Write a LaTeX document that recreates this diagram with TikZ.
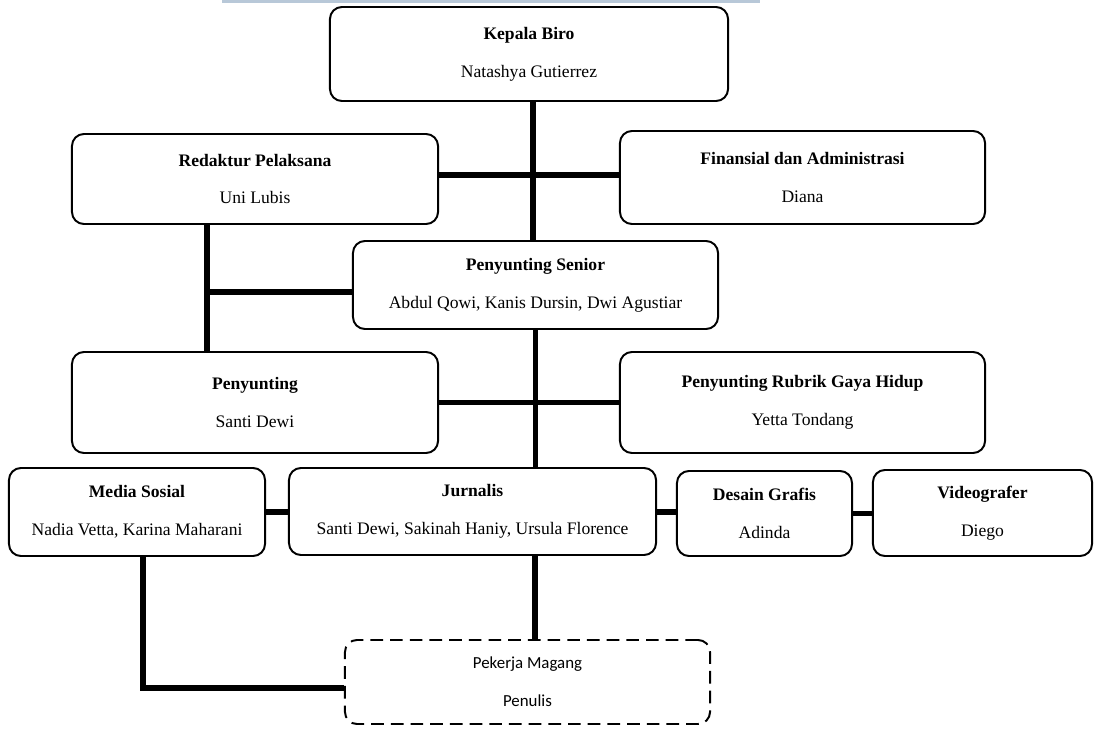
\documentclass[tikz,border=0pt]{standalone}
\usepackage{fontspec}
\setmainfont{Liberation Serif}
\newfontfamily\calibrifont{Carlito}
\usetikzlibrary{positioning}

\tikzset{
  unit/.style={draw=black,rounded corners=0.3cm,line width=1.4pt,align=center,
    font=\fontsize{12.5}{15}\selectfont,inner sep=0pt},
  internbox/.style={unit,dashed,dash pattern=on 9pt off 5pt,font=\calibrifont\fontsize{12}{14}\selectfont},
  link/.style={draw=black,line width=4.25pt},
}

\begin{document}
\begin{tikzpicture}[x=0.025cm,y=-0.025cm]
\useasboundingbox (0,0) rectangle (1094,729);
\fill[fill={rgb,255:red,184;green,200;blue,216}] (222,0) rectangle (760,3);

\node[unit,minimum width=9.95cm,minimum height=2.35cm] (kepala) at (529,54) {\textbf{Kepala Biro}\\[12pt]Natashya Gutierrez};
\node[unit,minimum width=9.15cm,minimum height=2.25cm] (redaktur) at (255,179) {\textbf{Redaktur Pelaksana}\\[12pt]Uni Lubis};
\node[unit,minimum width=9.125cm,minimum height=2.325cm] (finansial) at (802.5,177.5) {\textbf{Finansial dan Administrasi}\\[12pt]Diana};
\node[unit,minimum width=9.125cm,minimum height=2.2cm] (senior) at (535.5,285) {\textbf{Penyunting Senior}\\[12pt]Abdul Qowi, Kanis Dursin, Dwi Agustiar};
\node[unit,minimum width=9.15cm,minimum height=2.525cm] (penyunting) at (255,402.5) {\textbf{Penyunting}\\[12pt]Santi Dewi};
\node[unit,minimum width=9.125cm,minimum height=2.525cm] (rubrik) at (802.5,402.5) {\textbf{Penyunting Rubrik Gaya Hidup}\\[12pt]Yetta Tondang};
\node[unit,minimum width=6.4cm,minimum height=2.2cm] (media) at (137,512) {\textbf{Media Sosial}\\[12pt]Nadia Vetta, Karina Maharani};
\node[unit,minimum width=9.175cm,minimum height=2.175cm] (jurnalis) at (472.5,511.5) {\textbf{Jurnalis}\\[12pt]Santi Dewi, Sakinah Haniy, Ursula Florence};
\node[unit,minimum width=4.375cm,minimum height=2.125cm] (desain) at (764.5,513.5) {\textbf{Desain Grafis}\\[12pt]Adinda};
\node[unit,minimum width=5.475cm,minimum height=2.15cm] (video) at (982.5,513) {\textbf{Videografer}\\[12pt]Diego};
\node[internbox,minimum width=9.125cm,minimum height=2.1cm] (magang) at (527.5,682) {Pekerja Magang\\[13pt]Penulis};

\coordinate (j1) at (207,292);

\draw[link] (kepala.south -| 533,0) -- (senior.north -| 533,0);
\draw[link] (redaktur.east |- 0,175) -- (finansial.west |- 0,175);
\draw[link] (redaktur.south -| j1) -- (penyunting.north -| j1);
\draw[link] (j1) -- (senior.west |- j1);
\draw[link] (senior.south) -- (jurnalis.north -| senior.south);
\draw[link] (penyunting.east) -- (rubrik.west);
\draw[link] (media.east) -- (media.east -| jurnalis.west);
\draw[link] (jurnalis.east |- 0,512) -- (desain.west |- 0,512);
\draw[link] (desain.east) -- (desain.east -| video.west);
\draw[link] (jurnalis.south -| 535,0) -- (magang.north -| 535,0);
\draw[link,line join=miter] (media.south -| 143,0) |- (magang.west |- 0,688);
\end{tikzpicture}
\end{document}
